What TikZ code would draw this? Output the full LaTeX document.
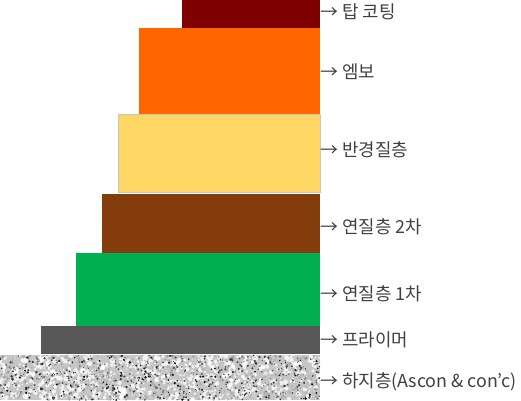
\documentclass[tikz,border=0pt]{standalone}
\usepackage{fontspec}
\newfontfamily\kr{Noto Sans CJK KR}
\definecolor{topc}{HTML}{7F0000}
\definecolor{embo}{HTML}{FF6600}
\definecolor{semi}{HTML}{FDD664}
\definecolor{soft2}{HTML}{843C0C}
\definecolor{soft1}{HTML}{00B050}
\definecolor{primer}{HTML}{575757}
\definecolor{txt}{HTML}{404040}
\tikzset{
  lbl/.style={anchor=west, inner sep=0pt, font=\kr\fontsize{13.4pt}{15pt}\selectfont, text=txt},
  layer/.style={draw=none}
}
\begin{document}
\begin{tikzpicture}[x=0.75pt,y=-0.75pt]
\useasboundingbox (0,0) rectangle (521,400);
% layers
\fill[topc] (182,0) rectangle (320,28);
\fill[embo] (139,28) rectangle (320,114);
\fill[semi] (118,114) rectangle (320,192);
\draw[gray!45, line width=0.6pt] (118.5,114.5) rectangle (320,192);
\fill[soft2] (102,194) rectangle (320,253);
\fill[soft1] (76,253) rectangle (320,326);
\fill[primer] (41,326) rectangle (320,354);
% base granite
\begin{scope}
\clip (0,355) rectangle (320,400);
\fill[gray!45] (0,355) rectangle (320,400);
\pgfmathsetseed{7}
\foreach \i in {1,...,900}{
  \pgfmathsetmacro{\xx}{rnd*320}
  \pgfmathsetmacro{\yy}{355+rnd*45}
  \pgfmathsetmacro{\rr}{0.6+rnd*2.0}
  \fill[white, opacity=0.75] (\xx,\yy) circle[radius=\rr];
}
\foreach \i in {1,...,500}{
  \pgfmathsetmacro{\xx}{rnd*320}
  \pgfmathsetmacro{\yy}{355+rnd*45}
  \pgfmathsetmacro{\rr}{0.5+rnd*1.5}
  \fill[gray!70, opacity=0.6] (\xx,\yy) circle[radius=\rr];
}
\foreach \i in {1,...,800}{
  \pgfmathsetmacro{\xx}{rnd*320}
  \pgfmathsetmacro{\yy}{355+rnd*45}
  \pgfmathsetmacro{\rr}{0.3+rnd*1.0}
  \pgfmathsetmacro{\kk}{45+rnd*55}
  \fill[black!\kk] (\xx,\yy) circle[radius=\rr];
}
\end{scope}
% labels
\node[lbl] (l1) at (320,12) {→ 탑 코팅};
\node[lbl] (l2) at (320,72) {→ 엠보};
\node[lbl] (l3) at (320,150) {→ 반경질층};
\node[lbl] (l4) at (320,227) {→ 연질층 2차};
\node[lbl] (l5) at (320,294) {→ 연질층 1차};
\node[lbl] (l6) at (320,340) {→ 프라이머};
\node[lbl] (l7) at (320,382) {→ 하지층(Ascon \& con’c)};
\end{tikzpicture}
\end{document}
